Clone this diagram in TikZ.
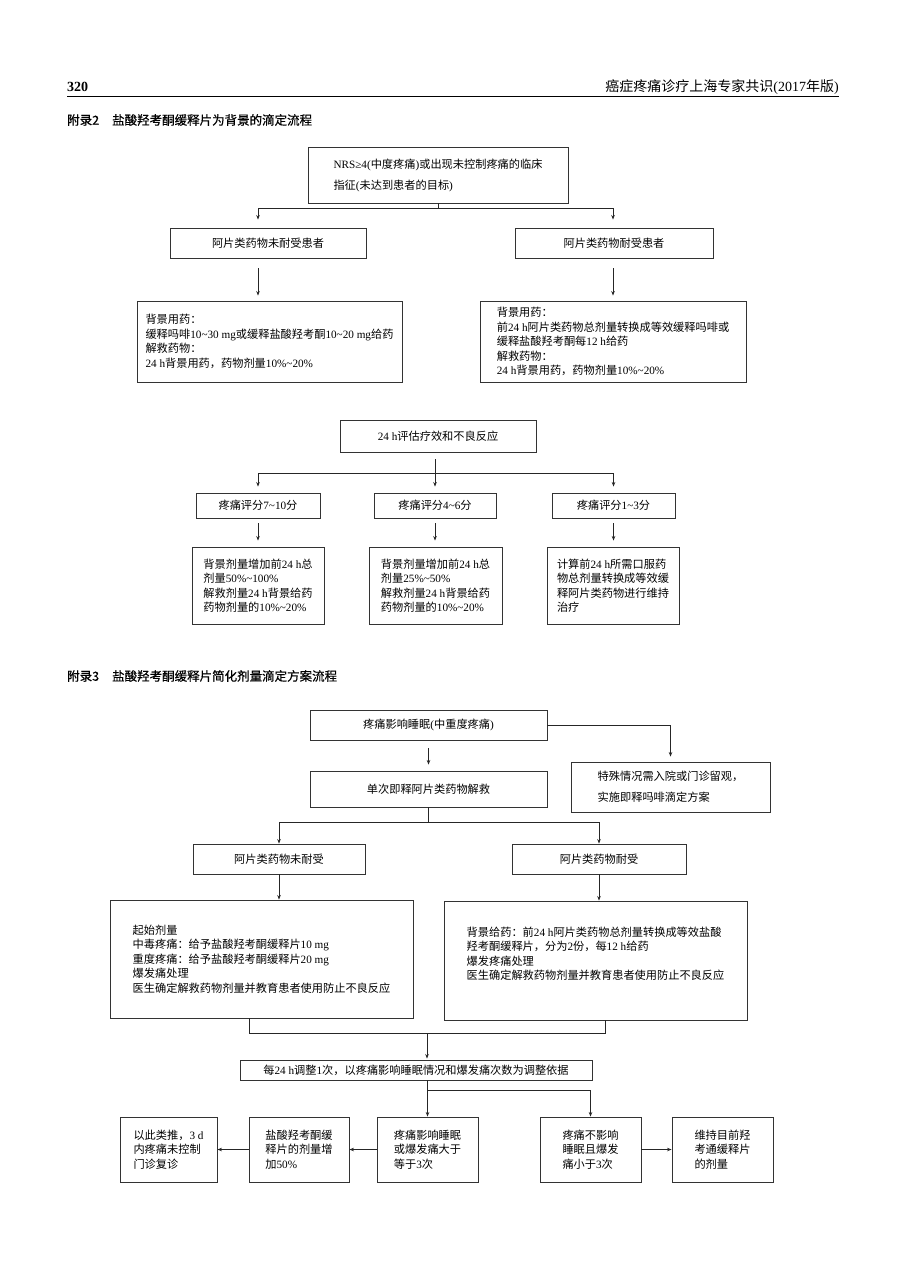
\documentclass[tikz,border=0pt]{standalone}
\usepackage{fontspec}
\setmainfont{Liberation Serif}
\newfontfamily\cjkf{Noto Sans CJK SC}
\newfontfamily\hdf[FakeBold=0.6]{Noto Sans CJK SC}
\usetikzlibrary{arrows.meta}
% automatic switching between Latin (Liberation Serif) and CJK (Noto Sans CJK SC)
\chardef\mycjk=10
\newcount\cc
\def\setcls#1#2{\cc=#1\relax\loop\ifnum\cc<#2\relax\XeTeXcharclass\cc=\mycjk\relax\advance\cc by 1\relax\repeat}
\setcls{"3000}{"3040}
\setcls{"4E00}{"A000}
\setcls{"FF00}{"FFF0}
\newcommand\latf{\rmfamily}
\XeTeXinterchartoks 0 \mycjk = {\cjkf}
\XeTeXinterchartoks 4095 \mycjk = {\cjkf}
\XeTeXinterchartoks \mycjk 0 = {\latf}
\XeTeXinterchartoks \mycjk 4095 = {\latf}
\XeTeXinterchartokenstate=1
\newcommand\tld{\textasciitilde}
\begin{document}
\begin{tikzpicture}[x=1pt,y=-1pt,
  box/.style={draw=black!80, line width=0.9pt, align=left, inner xsep=3pt, inner ysep=2pt,
              font=\fontsize{11.2}{14.5}\selectfont},
  wide/.style={font=\fontsize{11.2}{21}\selectfont},
  hdr/.style={inner sep=0pt},
  ln/.style={line width=0.7pt, black!85},
  arr/.style={ln, -{Stealth[length=4.5pt,width=3.5pt]}}]
\useasboundingbox[fill=white] (0,0) rectangle (900,1273);

% page header
\node[hdr, anchor=west, font=\bfseries\fontsize{14}{16}\selectfont] (pg) at (67,87) {320};
\node[hdr, anchor=east, font=\fontsize{14}{16}\selectfont] (jt) at (839,87) {癌症疼痛诊疗上海专家共识(2017年版)};
\draw[line width=1pt] (pg.west |- 0,97) -- (jt.east |- 0,97);

% ---------- appendix 2 ----------
\node[hdr, anchor=west, font=\hdf\fontsize{12.5}{14}\selectfont] (h2) at (67,120)
  {\XeTeXinterchartokenstate=0 附录2\hspace{13pt}盐酸羟考酮缓释片为背景的滴定流程};

\node[box, wide, minimum width=260, minimum height=56] (n1) at (438,175)
  {NRS≥4(中度疼痛)或出现未控制疼痛的临床\\指征(未达到患者的目标)};
\node[box, minimum width=196, minimum height=30] (b1) at (268,243) {阿片类药物未耐受患者};
\node[box, minimum width=198, minimum height=30] (b2) at (614,243) {阿片类药物耐受患者};
\node[box, minimum width=265, minimum height=81] (c1) at (269.5,341.5)
  {背景用药：\\缓释吗啡10\tld30 mg或缓释盐酸羟考酮10\tld20 mg给药\\解救药物：\\24 h背景用药，药物剂量10\%\tld20\%};
\node[box, minimum width=266, minimum height=81] (c2) at (613,341.5)
  {背景用药：\\前24 h阿片类药物总剂量转换成等效缓释吗啡或\\缓释盐酸羟考酮每12 h给药\\解救药物：\\24 h背景用药，药物剂量10\%\tld20\%};

\draw[ln] (n1.south) -- ++(0,5) coordinate (j1);
\draw[arr, shorten >=8pt] (j1) -| ([xshift=-10pt]b1.north);
\draw[arr, shorten >=8pt] (j1) -| ([xshift=-1pt]b2.north);
\draw[arr, shorten <=10pt, shorten >=5pt] ([xshift=-10pt]b1.south) -- ([xshift=-10pt]b1.south |- c1.north);
\draw[arr, shorten <=10pt, shorten >=5pt] ([xshift=-1pt]b2.south) -- ([xshift=-1pt]b2.south |- c2.north);

\node[box, minimum width=196, minimum height=32] (m1) at (438,436) {24 h评估疗效和不良反应};
\node[box, minimum width=124, minimum height=25] (s1) at (258,505.5) {疼痛评分7\tld10分};
\node[box, minimum width=122, minimum height=25] (s2) at (435,505.5) {疼痛评分4\tld6分};
\node[box, minimum width=123, minimum height=25] (s3) at (613.5,505.5) {疼痛评分1\tld3分};
\node[box, minimum width=132, minimum height=77] (t1) at (258,585.5)
  {背景剂量增加前24 h总\\剂量50\%\tld100\%\\解救剂量24 h背景给药\\药物剂量的10\%\tld20\%};
\node[box, minimum width=133, minimum height=77] (t2) at (435.5,585.5)
  {背景剂量增加前24 h总\\剂量25\%\tld50\%\\解救剂量24 h背景给药\\药物剂量的10\%\tld20\%};
\node[box, minimum width=132, minimum height=77] (t3) at (613,585.5)
  {计算前24 h所需口服药\\物总剂量转换成等效缓\\释阿片类药物进行维持\\治疗};

\draw[ln, shorten <=7pt] ([xshift=-3pt]m1.south) -- ++(0,21) coordinate (j2);
\draw[arr, shorten >=6pt] (j2) -| (s1.north);
\draw[arr, shorten >=6pt] (j2) -- (s2.north);
\draw[arr, shorten >=6pt] (j2) -| (s3.north);
\draw[arr, shorten <=5pt, shorten >=6pt] (s1.south) -- (s1.south |- t1.north);
\draw[arr, shorten <=5pt, shorten >=6pt] (s2.south) -- (s2.south |- t2.north);
\draw[arr, shorten <=5pt, shorten >=6pt] (s3.south) -- (s3.south |- t3.north);

% ---------- appendix 3 ----------
\node[hdr, anchor=west, font=\hdf\fontsize{12.5}{14}\selectfont] (h3) at (67,676)
  {\XeTeXinterchartokenstate=0 附录3\hspace{13pt}盐酸羟考酮缓释片简化剂量滴定方案流程};

\node[box, minimum width=237, minimum height=30] (p1) at (428.5,725) {疼痛影响睡眠(中重度疼痛)};
\node[box, wide, minimum width=199, minimum height=50] (p2) at (670.5,787)
  {特殊情况需入院或门诊留观，\\实施即释吗啡滴定方案};
\node[box, minimum width=237, minimum height=36] (p3) at (428.5,789) {单次即释阿片类药物解救};
\node[box, minimum width=172, minimum height=30] (q1) at (279,859) {阿片类药物未耐受};
\node[box, minimum width=174, minimum height=30] (q2) at (599,859) {阿片类药物耐受};
\node[box, minimum width=303, minimum height=118] (r1) at (261.5,959)
  {起始剂量\\中毒疼痛：给予盐酸羟考酮缓释片10 mg\\重度疼痛：给予盐酸羟考酮缓释片20 mg\\爆发痛处理\\医生确定解救药物剂量并教育患者使用防止不良反应};
\node[box, minimum width=303, minimum height=119] (r2) at (595.5,960.5)
  {背景给药：前24 h阿片类药物总剂量转换成等效盐酸\\羟考酮缓释片，分为2份，每12 h给药\\爆发疼痛处理\\医生确定解救药物剂量并教育患者使用防止不良反应\\\mbox{}};
\node[box, minimum width=352, minimum height=20] (u) at (416,1070)
  {每24 h调整1次，以疼痛影响睡眠情况和爆发痛次数为调整依据};
\node[box, minimum width=101, minimum height=65] (v1) at (427.5,1149.5) {疼痛影响睡眠\\或爆发痛大于\\等于3次};
\node[box, minimum width=100, minimum height=65] (v2) at (299,1149.5) {盐酸羟考酮缓\\释片的剂量增\\加50\%};
\node[box, minimum width=97, minimum height=65] (v3) at (168.5,1149.5) {以此类推，3 d\\内疼痛未控制\\门诊复诊};
\node[box, minimum width=101, minimum height=65] (w1) at (590.5,1149.5) {疼痛不影响\\睡眠且爆发\\痛小于3次};
\node[box, minimum width=101, minimum height=65] (w2) at (722.5,1149.5) {维持目前羟\\考通缓释片\\的剂量};

\draw[arr, shorten >=5pt] (p1.east) -| (p2.north);
\draw[arr, shorten <=8pt, shorten >=6pt] (p1.south) -- (p3.north);
\draw[ln] (p3.south) -- ++(0,15) coordinate (j3);
\draw[arr] (j3) -| (q1.north);
\draw[arr] (j3) -| (q2.north);
\draw[arr] (q1.south) -- (q1.south |- r1.north);
\draw[arr] (q2.south) -- (q2.south |- r2.north);
\coordinate (jm) at (427,1033);
\draw[ln] ([xshift=-12.5pt]r1.south) |- (jm) -| ([xshift=9.5pt]r2.south);
\draw[arr, shorten >=1pt] (jm) -- (jm |- u.north);
\draw[arr] (u.south -| v1.north) -- (v1.north);
\draw[arr] ([yshift=-10pt]u.south -| v1.north) -| (w1.north);
\draw[arr] (v1.west) -- (v2.east);
\draw[arr] (v2.west) -- (v3.east);
\draw[arr] (w1.east) -- (w2.west);
\end{tikzpicture}
\end{document}
